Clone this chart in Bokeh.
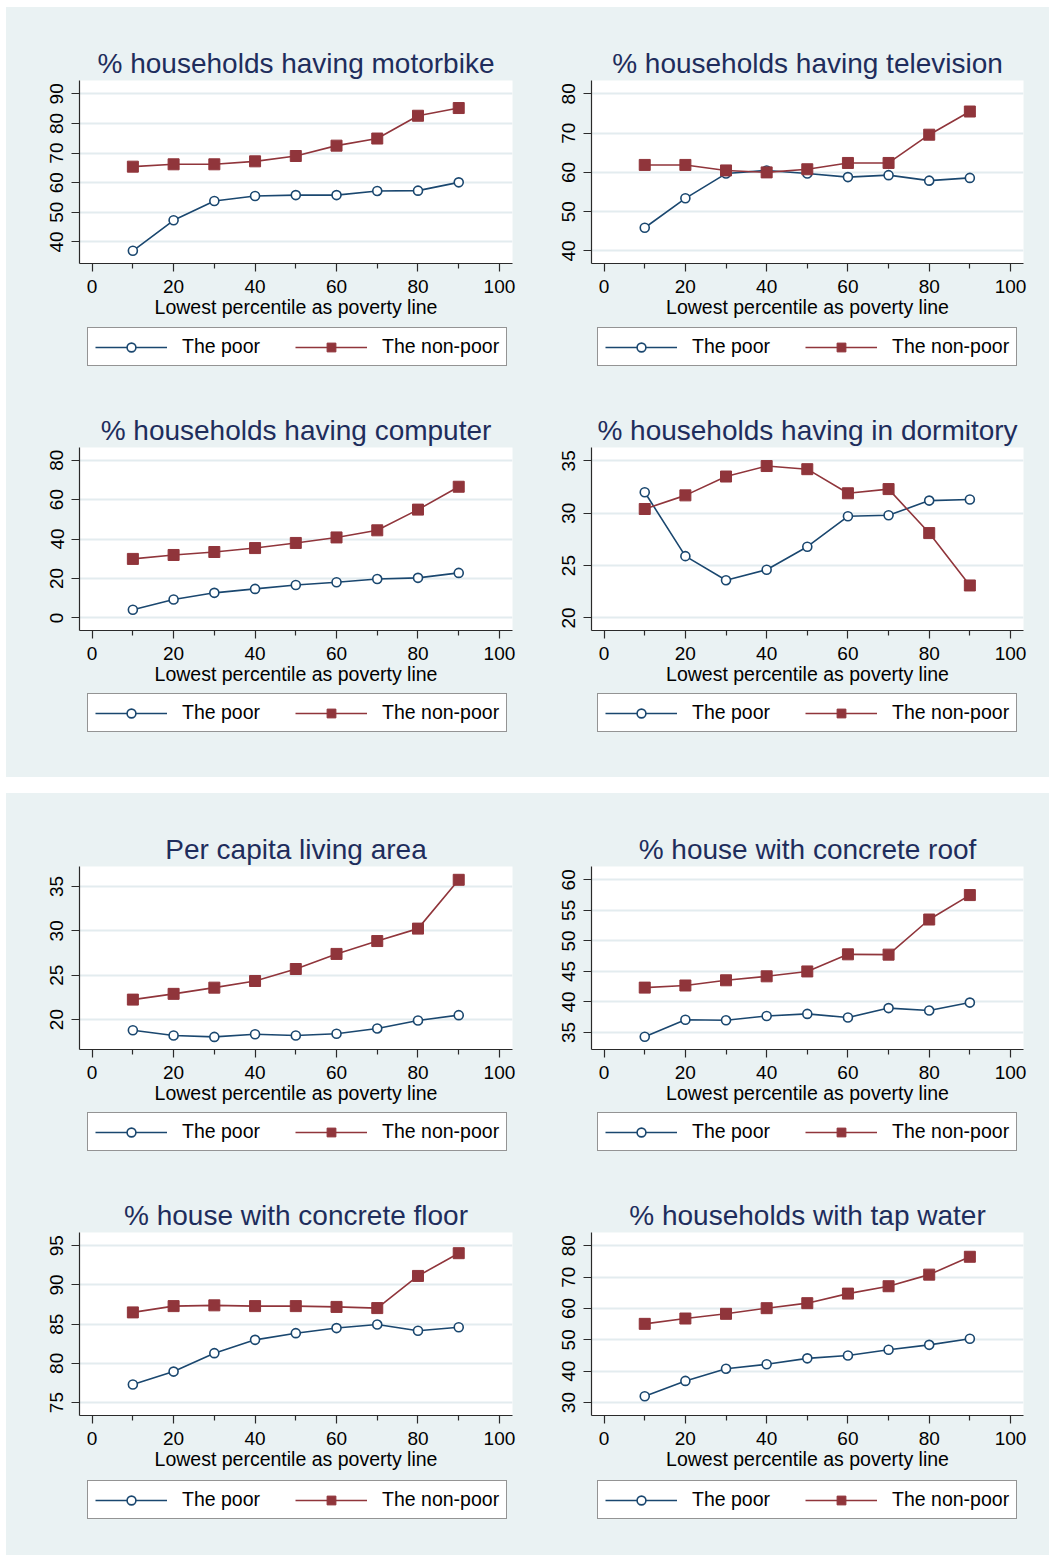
from bokeh.plotting import figure
from bokeh.models import Range1d, FixedTicker, Legend, LegendItem, Spacer
from bokeh.layouts import column, row
from bokeh.embed import file_html
from bokeh.resources import INLINE

# ---------------- data ----------------
percentile = [10, 20, 30, 40, 50, 60, 70, 80, 90]
x_ticks = [0, 20, 40, 60, 80, 100]
x_minor_ticks = [10, 30, 50, 70, 90]
series_labels = ["The poor", "The non-poor"]
x_title = "Lowest percentile as poverty line"

titles = [
    "% households having motorbike",
    "% households having television",
    "% households having computer",
    "% households having in dormitory",
    "Per capita living area",
    "% house with concrete roof",
    "% house with concrete floor",
    "% households with tap water",
]

motorbike_poor = [37.0, 47.3, 53.8, 55.5, 55.8, 55.8, 57.2, 57.3, 60.1]
motorbike_nonpoor = [65.4, 66.2, 66.2, 67.2, 69.0, 72.5, 74.9, 82.6, 85.2]
tv_poor = [45.9, 53.4, 59.7, 60.5, 59.7, 58.8, 59.3, 57.9, 58.6]
tv_nonpoor = [61.9, 61.9, 60.5, 60.0, 60.8, 62.4, 62.4, 69.6, 75.5]
computer_poor = [4.1, 9.3, 12.7, 14.7, 16.7, 18.1, 19.7, 20.3, 22.8]
computer_nonpoor = [29.9, 31.9, 33.4, 35.4, 38.0, 40.8, 44.4, 54.9, 66.5]
dorm_poor = [32.0, 25.9, 23.6, 24.6, 26.8, 29.7, 29.8, 31.2, 31.3]
dorm_nonpoor = [30.4, 31.7, 33.5, 34.5, 34.2, 31.9, 32.3, 28.1, 23.1]
area_poor = [18.8, 18.2, 18.05, 18.35, 18.2, 18.4, 19.0, 19.9, 20.5]
area_nonpoor = [22.25, 22.9, 23.6, 24.35, 25.7, 27.4, 28.85, 30.25, 35.75]
roof_poor = [34.3, 37.1, 37.0, 37.7, 38.05, 37.45, 39.0, 38.6, 39.9]
roof_nonpoor = [42.35, 42.7, 43.55, 44.2, 45.0, 47.8, 47.75, 53.5, 57.5]
floor_poor = [77.3, 78.95, 81.3, 83.0, 83.85, 84.5, 84.95, 84.15, 84.6]
floor_nonpoor = [86.5, 87.3, 87.4, 87.3, 87.3, 87.2, 87.05, 91.15, 94.05]
tap_poor = [32.0, 36.9, 40.8, 42.2, 44.1, 45.0, 46.85, 48.4, 50.35]
tap_nonpoor = [55.1, 56.8, 58.3, 60.1, 61.7, 64.75, 67.1, 70.8, 76.5]

motorbike_yticks = [40, 50, 60, 70, 80, 90]
tv_yticks = [40, 50, 60, 70, 80]
computer_yticks = [0, 20, 40, 60, 80]
dorm_yticks = [20, 25, 30, 35]
area_yticks = [20, 25, 30, 35]
roof_yticks = [35, 40, 45, 50, 55, 60]
floor_yticks = [75, 80, 85, 90, 95]
tap_yticks = [30, 40, 50, 60, 70, 80]

# ---------------- style ----------------
BG = "#EAF2F3"
GRID = "#E3ECEF"
NAVY = "#1A476F"
MAROON = "#90353B"
TITLE_C = "#1E2D5C"
AXIS_C = "#2A2A2A"
FONT = "Liberation Sans"
LEG_H = 36


def add_series(p, poor, nonpoor):
    l1 = p.line(percentile, poor, line_color=NAVY, line_width=1.6)
    s1 = p.scatter(percentile, poor, marker="circle", size=9,
                   line_color=NAVY, fill_color="white", line_width=1.6)
    l2 = p.line(percentile, nonpoor, line_color=MAROON, line_width=1.6)
    s2 = p.scatter(percentile, nonpoor, marker="square", size=11,
                   line_color=MAROON, fill_color=MAROON)
    return l1, s1, l2, s2


def make_plot(title, poor, nonpoor, yrange, yticks, width, height,
              bl, br, bt, bb):
    p = figure(width=width, height=height, output_backend="svg",
               toolbar_location=None, x_range=Range1d(-3.1, 103.2),
               y_range=Range1d(*yrange),
               min_border_left=bl, min_border_right=br,
               min_border_top=bt, min_border_bottom=bb,
               title=title)
    p.background_fill_color = "white"
    p.border_fill_color = BG
    p.outline_line_color = None

    p.title.text_font = FONT
    p.title.text_font_size = "28px"
    p.title.text_font_style = "normal"
    p.title.text_color = TITLE_C
    p.title.align = "center"
    p.title.standoff = 4

    xa = p.xaxis[0]
    xa.ticker = FixedTicker(ticks=x_ticks, minor_ticks=x_minor_ticks)
    xa.axis_label = x_title
    ya = p.yaxis[0]
    ya.ticker = FixedTicker(ticks=yticks)
    ya.major_label_orientation = "vertical"
    for ax in (xa, ya):
        ax.axis_line_color = AXIS_C
        ax.axis_line_width = 1.2
        ax.major_tick_line_color = AXIS_C
        ax.major_tick_line_width = 1.2
        ax.major_tick_in = 0
        ax.major_tick_out = 8
        ax.minor_tick_line_color = AXIS_C
        ax.minor_tick_line_width = 1.2
        ax.minor_tick_in = 0
        ax.minor_tick_out = 5
        ax.major_label_text_font = FONT
        ax.major_label_text_font_size = "19px"
        ax.major_label_text_color = "black"
        ax.major_label_standoff = 8
        ax.axis_label_text_font = FONT
        ax.axis_label_text_font_size = "19.5px"
        ax.axis_label_text_font_style = "normal"
        ax.axis_label_text_color = "black"
        ax.axis_label_standoff = 0
    ya.minor_tick_line_color = None

    p.xgrid.visible = False
    p.ygrid.grid_line_color = GRID
    p.ygrid.grid_line_width = 2

    add_series(p, poor, nonpoor)
    return p


def make_legend_fig(poor, nonpoor, width, height, leg_x, leg_top):
    q = figure(width=width, height=height, output_backend="svg",
               toolbar_location=None, x_axis_type=None, y_axis_type=None,
               x_range=Range1d(0, 1), y_range=Range1d(0, 1),
               min_border_left=0, min_border_right=0,
               min_border_top=0, min_border_bottom=0)
    q.background_fill_color = BG
    q.border_fill_color = BG
    q.outline_line_color = None
    q.grid.visible = False
    # series drawn far outside the (0,1) ranges: only their legend samples show
    l1, s1, l2, s2 = add_series(q, poor, nonpoor)
    legend = Legend(
        items=[LegendItem(label=series_labels[0], renderers=[l1, s1]),
               LegendItem(label=series_labels[1], renderers=[l2, s2])],
        orientation="horizontal",
        location=(leg_x, height - leg_top - LEG_H),
        glyph_width=72, glyph_height=22, label_standoff=15, spacing=35,
        padding=7, margin=0,
        label_text_font=FONT, label_text_font_size="19.5px",
        label_text_color="black",
        border_line_color=AXIS_C, border_line_width=1.5,
        background_fill_color="white", background_fill_alpha=1.0)
    q.add_layout(legend)
    return q


specs = [
    (motorbike_poor, motorbike_nonpoor, (32.7, 94.5), motorbike_yticks),
    (tv_poor, tv_nonpoor, (36.8, 83.4), tv_yticks),
    (computer_poor, computer_nonpoor, (-6.4, 86.4), computer_yticks),
    (dorm_poor, dorm_nonpoor, (18.8, 36.27), dorm_yticks),
    (area_poor, area_nonpoor, (16.63, 37.25), area_yticks),
    (roof_poor, roof_nonpoor, (32.22, 62.18), roof_yticks),
    (floor_poor, floor_nonpoor, (73.35, 96.69), floor_yticks),
    (tap_poor, tap_nonpoor, (25.87, 84.24), tap_yticks),
]
# per row: (plot height, border top, border bottom, legend fig height, legend top offset)
row_geo = [(318, 73, 62, 67, 5), (300, 55, 62, 85, 4),
           (318, 73, 62, 59, 4), (307, 62, 62, 78, 6)]
# per column: (width, border left, border right, legend x from the aligned frame)
col_geo = [(521, 73, 15, 8), (522, 64, 26, 6)]

cells = []
for i, (poor, nonpoor, yr, yt) in enumerate(specs):
    ph, bt, bb, lh, lt = row_geo[i // 2]
    w, bl, br, lx = col_geo[i % 2]
    pf = make_plot(titles[i], poor, nonpoor, yr, yt, w, ph, bl, br, bt, bb)
    lf = make_legend_fig(poor, nonpoor, w, lh, lx, lt)
    cells.append(column(pf, lf))

top_panel = column(row(cells[0], cells[1]), row(cells[2], cells[3]),
                   styles={"background-color": BG})
bottom_panel = column(row(cells[4], cells[5]), row(cells[6], cells[7]),
                      styles={"background-color": BG})

layout = column(
    Spacer(width=1049, height=7),
    row(Spacer(width=6, height=10),
        column(top_panel, Spacer(width=1043, height=16), bottom_panel)),
)

open("out.html", "w").write(file_html(layout, INLINE))
